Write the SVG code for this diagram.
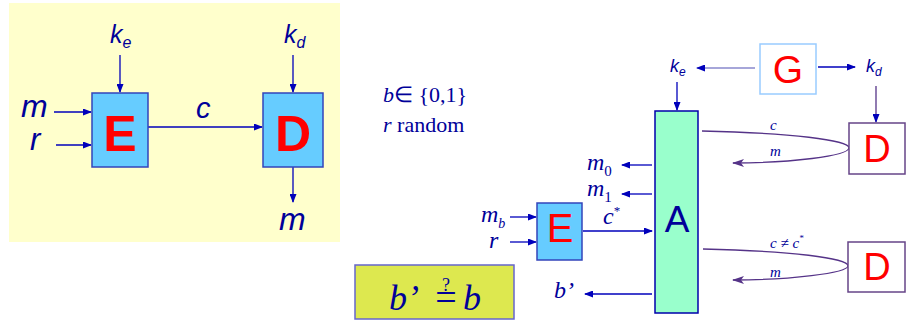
<svg xmlns="http://www.w3.org/2000/svg" width="920" height="327" viewBox="0 0 920 327">
<defs>
<style>
.sans{font-family:"Liberation Sans",Arial,sans-serif;font-style:italic;fill:#000099}
.serif{font-family:"Liberation Serif","Times New Roman",serif;font-style:italic;fill:#000099}
.big{font-family:"Liberation Sans",Arial,sans-serif;fill:#ff0000;text-anchor:middle}
.ln{stroke:#0000bb;stroke-width:1.3;fill:none;marker-end:url(#ah)}
.pl{stroke:#553388;stroke-width:1.3;fill:none;marker-end:url(#ap)}
</style>
<marker id="ah" markerWidth="9" markerHeight="7" refX="8" refY="3.5" orient="auto" markerUnits="userSpaceOnUse"><path d="M0,0 L9,3.5 L0,7 z" fill="#0000bb"/></marker>
<marker id="ap" markerWidth="12" markerHeight="8" refX="11" refY="4" orient="auto" markerUnits="userSpaceOnUse"><path d="M0,0 L12,4 L0,8 L3,4 z" fill="#553388"/></marker>
</defs>
<rect x="9" y="3" width="331" height="239" fill="#ffffcc"/>
<g id="connectors">
<line class="ln" x1="120" y1="55" x2="120" y2="92"/>
<line class="ln" x1="293" y1="55" x2="293" y2="92"/>
<line class="ln" x1="54" y1="112" x2="91" y2="112"/>
<line class="ln" x1="56" y1="145" x2="91" y2="145"/>
<line class="ln" x1="148" y1="127" x2="262" y2="127"/>
<line class="ln" x1="293" y1="167" x2="293" y2="202"/>
<line class="ln" x1="755" y1="68" x2="697" y2="68" style="stroke:#8888cc"/>
<line class="ln" x1="818" y1="67" x2="855" y2="67"/>
<line class="ln" x1="677" y1="82" x2="677" y2="110"/>
<line class="pl" x1="876" y1="86" x2="876" y2="122" style="marker-end:url(#ah)"/>
<line class="ln" x1="652" y1="165" x2="622" y2="165"/>
<line class="ln" x1="652" y1="194" x2="622" y2="194"/>
<line class="ln" x1="583" y1="231" x2="652" y2="231"/>
<line class="ln" x1="510" y1="217" x2="536" y2="217"/>
<line class="ln" x1="510" y1="242" x2="536" y2="242"/>
<line class="ln" x1="652" y1="294" x2="585" y2="294"/>
<path class="pl" d="M702,131 C790,133 850,140 849,148 C848,156 790,163 733,163"/>
<path class="pl" d="M703,249 C790,251 849,258 848,266 C847,273 790,280 733,280"/>
</g>
<g id="E1"><rect x="92" y="93" width="56" height="74" fill="#66ccff" stroke="#3344bb" stroke-width="1.5"/><text x="120" y="151" class="big" font-size="50" font-weight="bold">E</text></g>
<g id="D1"><rect x="263" y="93" width="60" height="74" fill="#66ccff" stroke="#3344bb" stroke-width="1.5"/><text x="293" y="151" class="big" font-size="50" font-weight="bold">D</text></g>
<g id="labels-left">
<text x="110" y="43" class="sans" font-size="25">k<tspan font-size="16" dy="5">e</tspan></text>
<text x="284" y="43" class="sans" font-size="25">k<tspan font-size="16" dy="5">d</tspan></text>
<text x="21" y="117" class="sans" font-size="32">m</text>
<text x="30" y="150" class="sans" font-size="31">r</text>
<text x="196" y="118" class="sans" font-size="29">c</text>
<text x="279" y="230" class="sans" font-size="32">m</text>
</g>
<g id="text-info">
<text x="383" y="102" class="serif" font-size="22">b<tspan font-style="normal">∈ {0,1}</tspan></text>
<text x="383" y="132" class="serif" font-size="22">r<tspan font-style="normal"> random</tspan></text>
</g>
<g id="G"><rect x="760" y="44" width="56" height="50" fill="#ffffff" stroke="#99ccff" stroke-width="1.5"/><text x="788" y="83" class="big" font-size="39">G</text></g>
<g id="A"><rect x="655" y="111" width="43" height="202" fill="#99ffcc" stroke="#0000aa" stroke-width="1.5"/><text x="677" y="232" font-family="Liberation Sans,Arial,sans-serif" font-size="37" fill="#000099" text-anchor="middle">A</text></g>
<g id="D2"><rect x="849" y="123" width="56" height="51" fill="#ffffff" stroke="#664488" stroke-width="1.5"/><text x="877" y="162" class="big" font-size="38">D</text></g>
<g id="D3"><rect x="848" y="242" width="57" height="50" fill="#ffffff" stroke="#664488" stroke-width="1.5"/><text x="877" y="280" class="big" font-size="38">D</text></g>
<g id="E2"><rect x="537" y="203" width="45" height="57" fill="#66ccff" stroke="#3344bb" stroke-width="1.5"/><text x="560" y="242" class="big" font-size="40">E</text></g>
<g id="Bcheck"><rect x="355" y="265" width="159" height="54" fill="#dde84f" stroke="#6666cc" stroke-width="1.5"/>
<text x="389" y="310" class="serif" font-size="36">b’</text>
<text x="446" y="310" font-family="Liberation Serif,serif" font-size="38" fill="#000099" text-anchor="middle">=</text>
<text x="446" y="291" font-family="Liberation Serif,serif" font-size="18" fill="#000099" text-anchor="middle">?</text>
<text x="463" y="310" class="serif" font-size="36">b</text></g>
<g id="labels-right">
<text x="670" y="72" class="sans" font-size="18">k<tspan font-size="12" dy="4">e</tspan></text>
<text x="866" y="72" class="sans" font-size="18">k<tspan font-size="12" dy="4">d</tspan></text>
<text x="770" y="130" class="serif" font-size="15">c</text>
<text x="770" y="156" class="serif" font-size="15">m</text>
<text x="770" y="248" class="serif" font-size="15">c <tspan font-style="normal">≠</tspan> c<tspan font-size="9" dy="-7">*</tspan></text>
<text x="770" y="277" class="serif" font-size="15">m</text>
<text x="587" y="170" class="serif" font-size="24">m<tspan font-size="15" dy="6" font-style="normal">0</tspan></text>
<text x="587" y="196" class="serif" font-size="24">m<tspan font-size="15" dy="6" font-style="normal">1</tspan></text>
<text x="603" y="224" class="serif" font-size="24">c<tspan font-size="13" dy="-9" font-style="normal">*</tspan></text>
<text x="481" y="222" class="serif" font-size="24">m<tspan font-size="14" dy="6">b</tspan></text>
<text x="489" y="248" class="serif" font-size="24">r</text>
<text x="554" y="298" class="serif" font-size="24">b’</text>
</g>
</svg>
